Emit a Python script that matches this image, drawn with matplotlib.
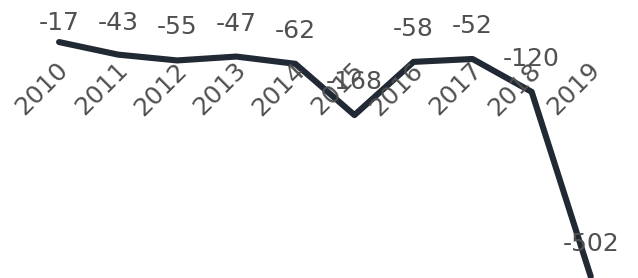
import matplotlib
matplotlib.use("Agg")
import matplotlib.pyplot as plt
import matplotlib.transforms as mtransforms

years = ["2010", "2011", "2012", "2013", "2014", "2015", "2016", "2017", "2018", "2019"]
values = [-17, -43, -55, -47, -62, -168, -58, -52, -120, -502]

line_color = "#212934"
text_color = "#505050"

fig = plt.figure(figsize=(6.38, 2.78), dpi=100)
ax = fig.add_axes([0, 0, 1, 1])
xs = list(range(len(years)))

ax.plot(xs, values, color=line_color, lw=4.4, solid_capstyle="round",
        solid_joinstyle="round", zorder=2)
ax.set_xlim(-1.0, 9.8)
ax.set_ylim(-505, 70)
ax.axis("off")

# year labels sit in a row near the top, rotated
blend = mtransforms.blended_transform_factory(ax.transData, ax.transAxes)
for x, yr in zip(xs, years):
    ax.text(x - 0.05, 1 - 58 / 278, yr, transform=blend, rotation=45,
            rotation_mode="anchor", ha="right", va="top",
            fontsize=18, color=text_color, zorder=3)

# value labels above points, kept inside the top edge
fig.canvas.draw()
H = fig.get_size_inches()[1] * fig.dpi
for x, v in zip(xs, values):
    px, py = ax.transData.transform((x, v))
    ty = min(py + 33, H - 23)
    tx, tyd = ax.transData.inverted().transform((px, ty))
    ax.text(x, tyd, str(v), ha="center", va="center", fontsize=18,
            color=text_color, zorder=3)

fig.savefig("out.png", dpi=100)
